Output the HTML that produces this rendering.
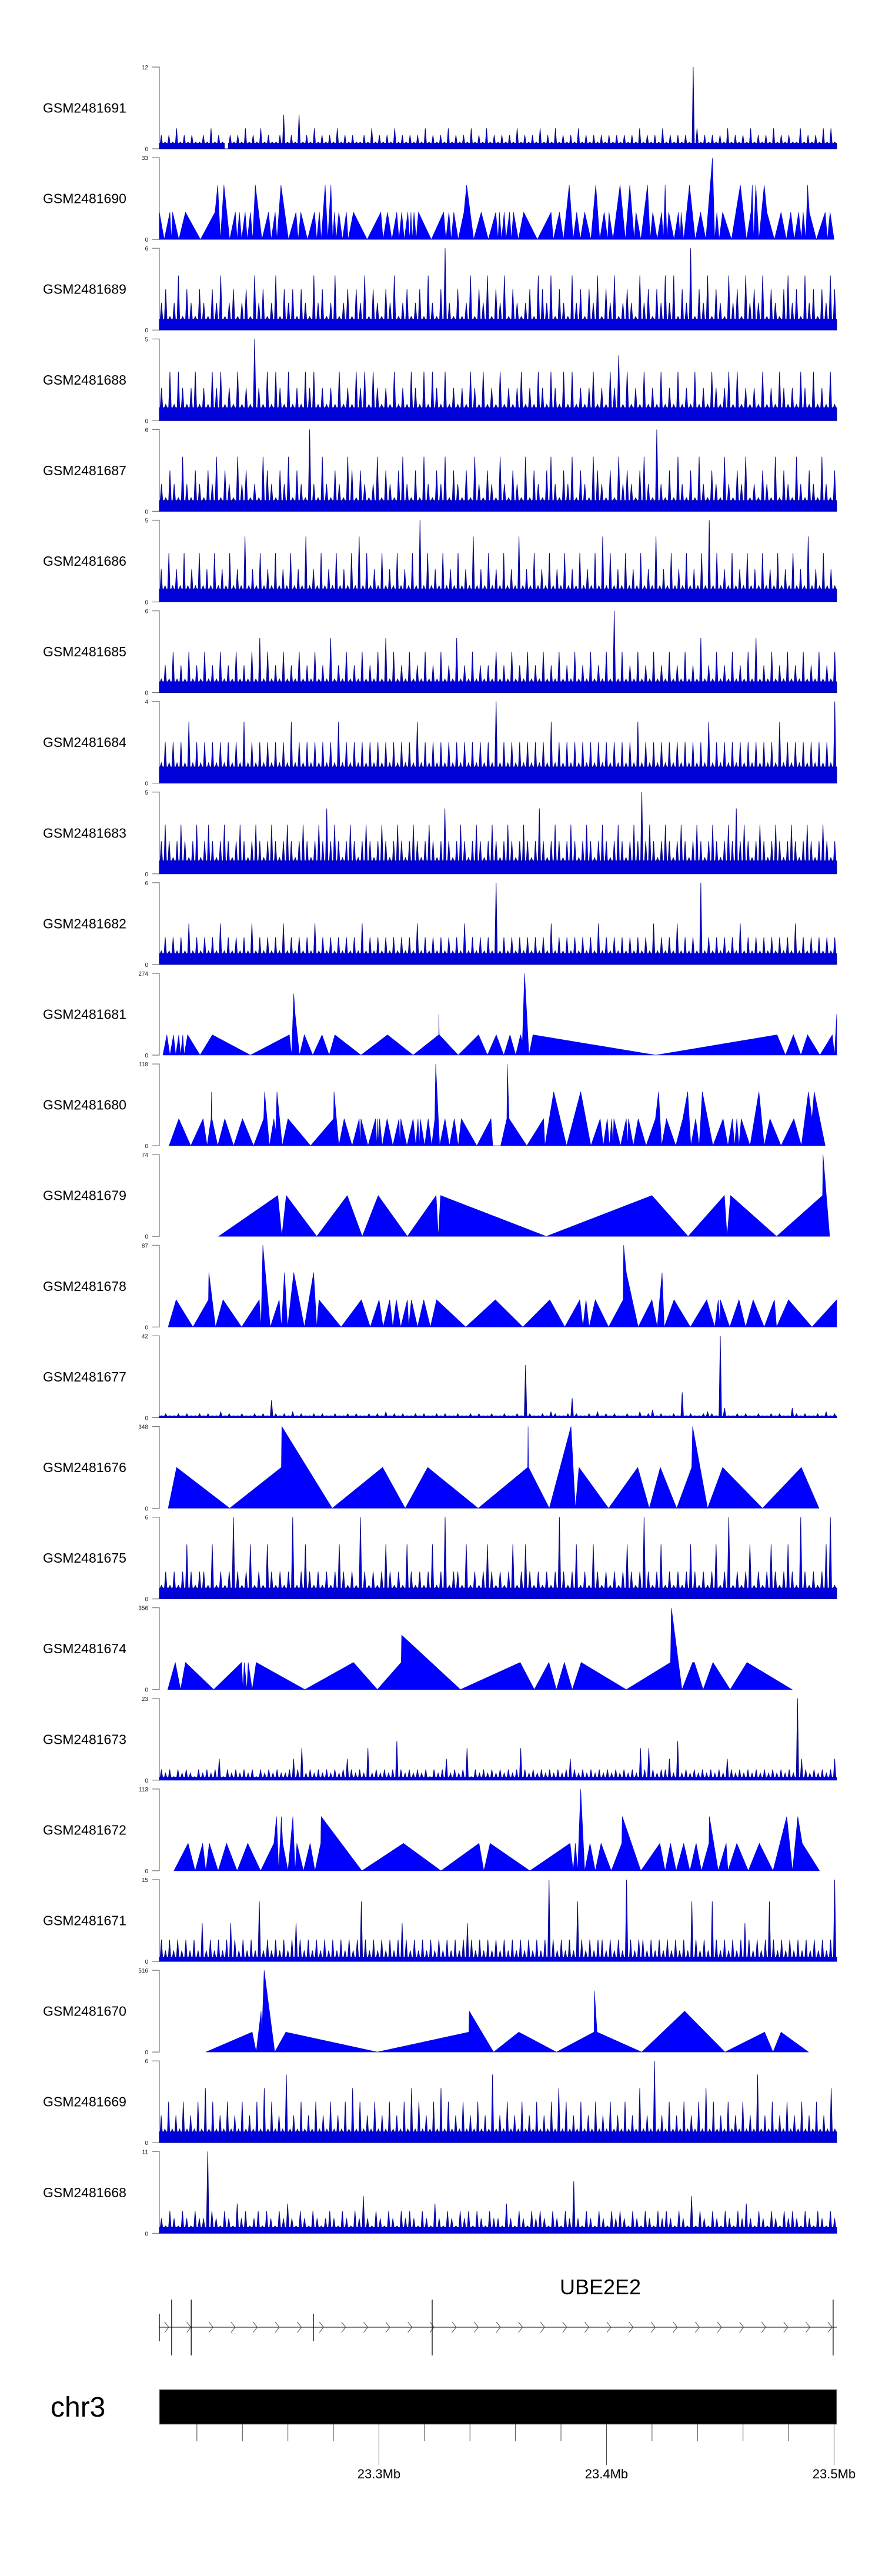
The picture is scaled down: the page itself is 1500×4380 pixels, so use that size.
<!DOCTYPE html>
<html><head><meta charset="utf-8"><title>Coverage tracks</title>
<style>
html,body{margin:0;padding:0;background:#fff;}
svg{display:block;font-family:"Liberation Sans",Arial,sans-serif;}
</style></head>
<body>
<svg id="chart" width="1500" height="4380" viewBox="0 0 1500 4380" xmlns="http://www.w3.org/2000/svg"></svg>
<script>
// ---- data ----
const trackNames = ["GSM2481691","GSM2481690","GSM2481689","GSM2481688","GSM2481687","GSM2481686","GSM2481685","GSM2481684","GSM2481683","GSM2481682","GSM2481681","GSM2481680","GSM2481679","GSM2481678","GSM2481677","GSM2481676","GSM2481675","GSM2481674","GSM2481673","GSM2481672","GSM2481671","GSM2481670","GSM2481669","GSM2481668"];
const trackMax = [12,33,6,5,6,5,6,4,5,6,274,118,74,87,42,348,6,356,23,113,15,516,6,11];

// dense tracks: binned coverage (base-36 chars or comma lists)
const d1691 = "2121312121121312102121312131211251215121312121312121121312121312121213121213121213121312121213121213121312121312121212121212131212131212121c3121212131212131212131212113121213131";
const d1689 = "2312413213213241231231423124132313214231241231324132132412312314213621312413241324132123143241321423132413241232142313242413261324132142314232413213423142313243";
const d1688 = "2131321231213231213121521313213121323121213121323132121312132131321312121321312131212312132132131312123121324131213121312131213121321231312121312132121321312131";
const d1687 = "2132142132132413214231214321324132162142132143132124132134213142132413213142132142132141321342132413214321314232134216213142131421321421324121321413214213214213";
const d1686 = "2131213121312131213121412131213121312141213121312131413121312131213151312131213121412131213121412131213121312131213141312131213121412131213121315131213121312131213121312141213121";
const d1685 = "1213121312131213121312131413121312131213121412131213121314131213121312131214121312121312131213121312131213121312131613121312131213121312141213121312131412131213121312131213";
const d1684 = "1212121312121212121213121212121213121212121213121212121212121212131212121212121212121412121212121213121212121212121212121312121212121212121312121212121212121312121212121214";
const d1683 = "2321232123123212321232123212321232123212324232123212321232123212321232124212321232123212321232124212321232123212321232123252321232123212321232123242321232123212321232123212";
const d1682 = "1212121312121213121212131212121312121213121212121213121212121212131212121212131212121612121212121213121212121213121212121212131212131212161212121213121212121212131212121212";
const d1677 = "1,2,1,1,2,1,2,1,1,2,1,2,1,1,3,1,2,1,1,2,1,1,2,1,2,1,9,2,1,2,1,3,1,2,1,1,2,1,2,1,1,2,1,1,2,1,2,1,1,2,1,2,1,3,1,2,1,2,1,1,2,1,2,1,1,2,1,2,1,1,2,1,1,2,1,2,1,1,2,1,1,2,1,1,2,1,27,2,1,1,2,1,3,2,1,1,2,10,2,1,1,2,1,3,1,2,1,2,1,1,2,1,1,3,1,2,4,1,2,1,1,2,1,13,1,2,1,1,2,3,2,1,42,5,1,1,2,1,2,1,1,2,1,1,2,1,2,1,1,5,2,1,2,1,1,2,1,3,1,2";
const d1675 = "1212124212214121262124121421212612421212124212162121242121421212412612214121242121241242121212621241214212121242126212412121242121241261212412124212421621212461";
const d1673 = "323132321323236132323231323232236392323232323632329232323b3232323132362323913232323232393232323232363232323232323232939323362b2323232323263232323232323232n632323236";
const d1671 = "424242424272424247424242b242424247424242424242424b424242424742424242424242474242424242424242424f424242b42424424242f424424242424242b4242b4242424742424b424242424242424f";
const d1669 = "2131213121314131213121312131413121512131213121312131413121312131213141312131413121312131215121312131213121314131213121312131213121412161213121312131413121312131215121312131213121312141";
const d1668 = "21321321322b32132142312313213242132132123213213252132132132321321421321323132132214213213232132132721321321323213213213232132151321321321324213213213232132132132";

// sparse (triangle) tracks: [position, value] vertices
const p1690 = [[14,11],[25,0],[38,11],[41,0],[44,11],[58,0],[73,11],[107,0],[140,11],[146,22],[152,0],[160,22],[173,0],[186,11],[190,0],[195,11],[200,0],[208,11],[213,0],[220,11],[225,0],[231,22],[246,0],[261,11],[267,0],[276,11],[280,0],[289,22],[306,0],[323,11],[328,0],[334,11],[349,0],[365,11],[370,0],[376,11],[380,0],[389,22],[395,0],[402,22],[406,0],[410,11],[414,0],[420,11],[428,0],[437,11],[441,0],[453,11],[484,0],[515,11],[520,0],[530,11],[540,0],[551,11],[556,0],[562,11],[568,0],[576,11],[580,0],[583,11],[586,0],[590,11],[595,0],[600,11],[629,0],[657,11],[662,0],[669,11],[674,0],[680,11],[690,0],[703,11],[709,22],[725,0],[742,11],[758,0],[775,11],[780,0],[783,11],[788,0],[794,11],[798,0],[806,11],[810,0],[815,11],[826,0],[838,11],[869,0],[900,11],[905,0],[919,11],[928,0],[941,22],[950,0],[958,11],[966,0],[976,11],[990,0],[1001,22],[1010,0],[1020,11],[1028,0],[1031,11],[1040,0],[1056,22],[1068,0],[1078,22],[1088,0],[1092,11],[1103,0],[1118,22],[1124,0],[1130,11],[1140,0],[1150,11],[1154,0],[1158,22],[1162,0],[1166,11],[1178,0],[1188,11],[1192,0],[1194,11],[1200,0],[1213,22],[1226,0],[1238,11],[1250,0],[1265,33],[1270,0],[1275,11],[1280,0],[1288,11],[1308,0],[1328,22],[1342,0],[1352,11],[1355,22],[1358,0],[1363,22],[1370,0],[1382,22],[1388,11],[1405,0],[1420,11],[1432,0],[1442,11],[1450,0],[1460,11],[1466,0],[1470,11],[1476,0],[1480,22],[1484,11],[1500,0],[1520,11],[1525,0],[1531,11],[1540,0]];
const p1681 = [[22,0],[31,68],[38,0],[46,68],[51,0],[58,68],[62,0],[67,68],[70,0],[78,68],[106,0],[134,68],[220,0],[308,68],[313,0],[318,206],[321,137],[331,0],[342,68],[361,0],[382,68],[398,0],[411,68],[470,0],[530,68],[588,0],[646,68],[646,137],[647,68],[690,0],[736,68],[756,0],[776,68],[793,0],[807,68],[820,0],[831,68],[835,45],[840,274],[850,0],[859,68],[1137,0],[1411,68],[1430,0],[1448,68],[1465,0],[1480,68],[1508,0],[1536,68],[1541,0],[1546,137]];
const p1680 = [[36,0],[58,39],[85,0],[113,39],[122,0],[131,39],[132,78],[133,39],[146,0],[162,39],[182,0],[202,39],[227,0],[250,39],[252,78],[263,0],[273,39],[277,20],[280,78],[292,0],[305,39],[356,0],[408,39],[409,78],[420,0],[432,39],[450,0],[466,39],[468,0],[470,39],[486,0],[503,39],[506,0],[508,39],[510,0],[512,39],[518,0],[529,39],[542,0],[556,39],[558,0],[560,39],[574,0],[588,39],[594,0],[599,39],[602,0],[604,39],[614,0],[622,39],[630,0],[637,39],[639,118],[648,0],[660,39],[670,0],[681,39],[690,0],[697,39],[732,0],[764,39],[768,0],[786,0],[800,39],[801,118],[805,39],[845,0],[883,39],[886,0],[906,78],[935,0],[967,78],[990,0],[1011,39],[1018,0],[1027,39],[1032,0],[1037,39],[1040,0],[1042,39],[1057,0],[1070,39],[1073,0],[1075,39],[1086,0],[1097,39],[1115,0],[1136,39],[1143,78],[1150,0],[1161,39],[1182,0],[1198,39],[1209,78],[1216,0],[1227,39],[1235,0],[1242,78],[1266,0],[1289,39],[1300,0],[1310,39],[1315,0],[1320,39],[1325,0],[1330,39],[1350,0],[1370,78],[1382,0],[1395,39],[1420,0],[1449,39],[1466,0],[1482,78],[1490,39],[1495,78],[1520,0]];
const p1679 = [[148,0],[282,37],[291,0],[301,37],[370,0],[439,37],[473,0],[509,37],[575,0],[640,37],[645,0],[650,37],[889,0],[1128,37],[1210,0],[1292,37],[1298,0],[1306,37],[1410,0],[1514,37],[1515,74],[1530,0]];
const p1678 = [[34,0],[52,29],[90,0],[125,29],[126,58],[141,0],[158,29],[200,0],[240,29],[244,0],[248,87],[265,0],[285,29],[290,0],[297,58],[304,0],[318,58],[342,0],[363,58],[370,0],[375,29],[425,0],[471,29],[491,0],[511,29],[520,0],[535,29],[542,0],[550,29],[560,0],[575,29],[578,0],[584,29],[598,0],[612,29],[627,0],[641,29],[707,0],[774,29],[836,0],[897,29],[931,0],[965,29],[972,0],[979,29],[986,0],[1000,29],[1030,0],[1063,29],[1064,87],[1070,58],[1097,0],[1128,29],[1140,0],[1151,58],[1156,0],[1178,29],[1215,0],[1252,29],[1270,0],[1278,29],[1282,0],[1283,29],[1304,0],[1325,29],[1340,0],[1357,29],[1382,0],[1405,29],[1410,0],[1437,29],[1490,0],[1546,29]];
const p1676 = [[34,0],[53,174],[173,0],[290,174],[291,348],[405,0],[519,174],[570,0],[621,174],[735,0],[847,174],[848,348],[849,174],[896,0],[945,348],[955,0],[963,174],[1030,0],[1096,174],[1122,0],[1147,174],[1184,0],[1218,174],[1220,348],[1254,0],[1288,174],[1378,0],[1466,174],[1506,0]];
const p1674 = [[33,0],[50,118],[62,0],[73,118],[137,0],[200,118],[203,0],[206,118],[212,0],[215,118],[224,0],[233,118],[343,0],[453,118],[507,0],[561,118],[562,237],[695,0],[830,118],[862,0],[895,118],[912,0],[930,118],[948,0],[968,118],[1070,0],[1170,118],[1172,356],[1196,0],[1220,118],[1224,118],[1244,0],[1266,118],[1305,0],[1343,118],[1445,0]];
const p1672 = [[47,0],[79,38],[95,0],[112,38],[119,0],[127,38],[147,0],[166,38],[190,0],[214,38],[243,0],[273,38],[279,75],[284,0],[290,75],[293,38],[305,0],[316,75],[321,0],[325,38],[340,0],[355,38],[366,0],[379,38],[380,75],[472,0],[566,38],[651,0],[737,38],[748,0],[762,38],[852,0],[943,38],[950,0],[955,38],[960,0],[967,113],[976,0],[988,38],[1000,0],[1013,38],[1036,0],[1060,38],[1061,75],[1103,0],[1146,38],[1158,0],[1170,38],[1183,0],[1200,38],[1214,0],[1228,38],[1240,0],[1257,38],[1258,75],[1278,0],[1296,38],[1300,0],[1320,38],[1346,0],[1371,38],[1402,0],[1433,75],[1446,0],[1458,75],[1468,38],[1507,0]];
const p1670 = [[119,0],[224,126],[233,0],[244,258],[246,126],[251,516],[275,0],[300,126],[507,0],[714,126],[715,258],[770,0],[827,126],[912,0],[997,126],[998,387],[1004,126],[1105,0],[1202,258],[1293,0],[1383,126],[1402,0],[1420,126],[1482,0]];

// gene model (Mb)
const exonLong = [23.2089,23.2175,23.3234,23.4996];
const exonShort = [23.2035,23.2712];
const geneStart = 23.2035, geneEnd = 23.5010;
const axisTicks = [23.22,23.24,23.26,23.28,23.30,23.32,23.34,23.36,23.38,23.40,23.42,23.44,23.46,23.48,23.50];
const axisLabels = ["23.3Mb","23.4Mb","23.5Mb"];
const axisLabelPos = [23.3,23.4,23.5];

// ---- layout / scales ----
const svg = document.getElementById('chart');
const NS = 'http://www.w3.org/2000/svg';
const X0 = 271, X1 = 1423, TOP0 = 114, PERIOD = 154.1, TH = 139;
const posDomain = [14,1546];
function xPos(p){ return X0 + (p - posDomain[0]) / (posDomain[1]-posDomain[0]) * (X1 - X0); }
function xMb(m){ return X0 + (m - 23.2035) * 3870; }
function mk(tag, attrs, parent){ const e=document.createElementNS(NS,tag); for(const k in attrs) e.setAttribute(k,attrs[k]); (parent||svg).appendChild(e); return e; }
function parseDense(s){ return s.indexOf(',')>=0 ? s.split(',').map(Number) : s.split('').map(c=>parseInt(c,36)); }

const denseData = {GSM2481691:d1691,GSM2481689:d1689,GSM2481688:d1688,GSM2481687:d1687,GSM2481686:d1686,GSM2481685:d1685,GSM2481684:d1684,GSM2481683:d1683,GSM2481682:d1682,GSM2481677:d1677,GSM2481675:d1675,GSM2481673:d1673,GSM2481671:d1671,GSM2481669:d1669,GSM2481668:d1668};
const sparseData = {GSM2481690:p1690,GSM2481681:p1681,GSM2481680:p1680,GSM2481679:p1679,GSM2481678:p1678,GSM2481676:p1676,GSM2481674:p1674,GSM2481672:p1672,GSM2481670:p1670};

trackNames.forEach((name,i)=>{
  const top = TOP0 + PERIOD*i, zero = top + TH, mx = trackMax[i];
  const yv = v => zero - Math.min(v,mx)/mx*TH;
  const g = mk('g',{});
  
  
  const lab = mk('text',{x:73,y:top+TH/2+8,'font-size':23,fill:'#000'},g);
  
  
  lab.textContent = name;
  const ax = mk('path',{d:`M259 ${top}H271V${zero}H259`,stroke:'#777',fill:'none','stroke-width':1.2},g);
  
  
  const t1 = mk('text',{x:252,y:top+4,'font-size':10,'text-anchor':'end',fill:'#222'},g);
  
  
  t1.textContent = mx;
  const t0 = mk('text',{x:252,y:zero+4,'font-size':10,'text-anchor':'end',fill:'#222'},g);
  
  
  t0.textContent = '0';
  let d;
  if (denseData[name]) {
    const vals = parseDense(denseData[name]);
    const n = vals.length, w = (X1-X0)/n;
    d = `M${X0} ${zero}`;
    vals.forEach((v,k)=>{
      const xa = X0 + k*w, xm = xa + w*0.5, y = yv(v), yb = yv(Math.min(v,1)*0.8);
      d += `L${xa.toFixed(1)} ${yb.toFixed(1)}L${(xm-w*0.3).toFixed(1)} ${yb.toFixed(1)}L${xm.toFixed(1)} ${y.toFixed(1)}L${(xm+w*0.3).toFixed(1)} ${yb.toFixed(1)}L${(xa+w).toFixed(1)} ${yb.toFixed(1)}`;
    });
    d += `L${X1} ${zero}Z`;
    const a = mk('path',{d:d,fill:'#0000d8',stroke:'#00008b','stroke-width':0.9},g);
    
    
  } else {
    const pts = sparseData[name];
    d = `M${xPos(pts[0][0]).toFixed(1)} ${zero}`;
    pts.forEach(p=>{ d += `L${xPos(p[0]).toFixed(1)} ${yv(p[1]).toFixed(1)}`; });
    d += `L${xPos(pts[pts.length-1][0]).toFixed(1)} ${zero}Z`;
    const a = mk('path',{d:d,fill:'#0000ff',stroke:'#0000c0','stroke-width':0.6},g);
    
    
  }
});

// ---- gene track ----
const gg = mk('g',{});


const gl = mk('text',{x:1021,y:3901,'font-size':36,'text-anchor':'middle',fill:'#000'},gg);


gl.textContent = 'UBE2E2';
const line = mk('line',{x1:xMb(geneStart),x2:X1,y1:3957,y2:3957,stroke:'#333','stroke-width':1.2},gg);


for (let x = 280; x < 1412; x += 37.6) {
  const c = mk('path',{d:`M${x.toFixed(1)} 3948L${(x+7).toFixed(1)} 3957L${x.toFixed(1)} 3966`,stroke:'#444',fill:'none','stroke-width':1},gg);
  
  
}
exonLong.forEach(m=>{
  const e = mk('line',{x1:xMb(m),x2:xMb(m),y1:3910,y2:4005,stroke:'#000','stroke-width':1.3},gg);
  
  
});
exonShort.forEach(m=>{
  const e = mk('line',{x1:xMb(m),x2:xMb(m),y1:3934,y2:3981,stroke:'#000','stroke-width':1.3},gg);
  
  
});

// ---- chromosome / axis ----
const cg = mk('g',{});


const chrLab = mk('text',{x:86,y:4109,'font-size':48,fill:'#000'},cg);


chrLab.textContent = 'chr3';
const bar = mk('rect',{x:X0,y:4063,width:X1-X0,height:59,fill:'#000',stroke:'#999','stroke-width':1},cg);


axisTicks.forEach(m=>{
  const major = axisLabelPos.some(p=>Math.abs(p-m)<1e-6);
  const t = mk('line',{x1:xMb(m),x2:xMb(m),y1:4122,y2:major?4191:4151,stroke:'#444','stroke-width':1},cg);
  
  
});
axisLabels.forEach((s,k)=>{
  const t = mk('text',{x:xMb(axisLabelPos[k]),y:4214,'font-size':22,'text-anchor':'middle',fill:'#000'},cg);
  
  
  t.textContent = s;
});
</script>
</body></html>
